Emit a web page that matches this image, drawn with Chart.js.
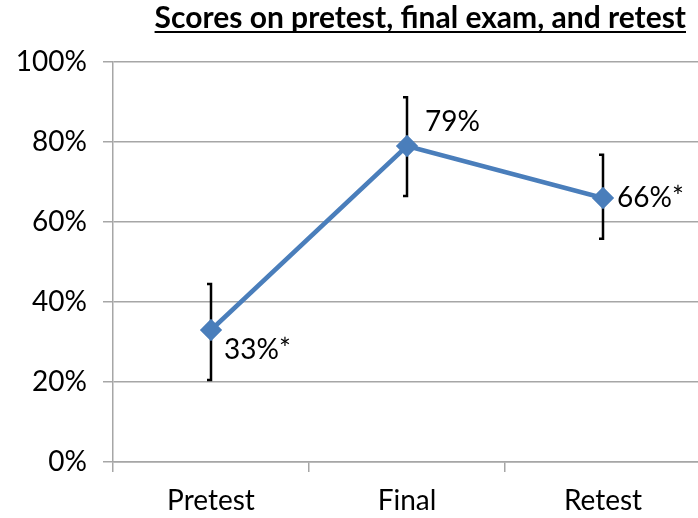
<!DOCTYPE html>
<html lang="en">
<head>
    <meta charset="UTF-8">
    <title>Scores on pretest, final exam, and retest</title>
    <style>
        body {
            margin: 0;
            background-color: #ffffff;
            overflow: hidden;
        }
        #wrap {
            width: 720px;
            height: 518px;
        }
    </style>
</head>
<body>
    <div id="wrap">
        <canvas id="scoreChart" width="720" height="518"></canvas>
    </div>
    <script src="https://cdn.jsdelivr.net/npm/chart.js@4.4.1/dist/chart.umd.min.js"></script>
    <script>
        // chart values
        var categories = ['Pretest', 'Final', 'Retest'];
        var scores = [33, 79, 66];
        var errLow = [20.5, 66.5, 55.8];
        var errHigh = [44.5, 91.2, 76.8];
        var pointLabels = ['33%*', '79%', '66%*'];
        var yTicks = [0, 20, 40, 60, 80, 100];

        var fontFamily = 'Lato, "Liberation Sans", sans-serif';
        var gridColor = '#a6a6a6';

        // label offsets relative to each point (dx, dy)
        var labelOffsets = [[13, 20], [18, -24], [14, 0]];

        // error bars drawn under the line
        var errorBarPlugin = {
            id: 'errorBars',
            beforeDatasetsDraw: function(chart) {
                var ctx = chart.ctx;
                var xs = chart.scales.x, ys = chart.scales.y;
                ctx.save();
                ctx.strokeStyle = '#000000';
                ctx.lineWidth = 2.5;
                errLow.forEach(function(lo, i) {
                    var x = xs.getPixelForValue(i);
                    var yLo = ys.getPixelForValue(lo);
                    var yHi = ys.getPixelForValue(errHigh[i]);
                    ctx.beginPath();
                    ctx.moveTo(x - 4, yHi);
                    ctx.lineTo(x, yHi);
                    ctx.lineTo(x, yLo);
                    ctx.lineTo(x - 4, yLo);
                    ctx.stroke();
                });
                ctx.restore();
            }
        };

        var pointLabelPlugin = {
            id: 'pointLabels',
            afterDatasetsDraw: function(chart) {
                var ctx = chart.ctx;
                var meta = chart.getDatasetMeta(0);
                ctx.save();
                ctx.fillStyle = '#000000';
                ctx.font = '28px ' + fontFamily;
                ctx.textAlign = 'left';
                ctx.textBaseline = 'middle';
                meta.data.forEach(function(pt, i) {
                    ctx.fillText(pointLabels[i], pt.x + labelOffsets[i][0], pt.y + labelOffsets[i][1]);
                });
                ctx.restore();
            }
        };

        // underlined bold title at the top right
        var titlePlugin = {
            id: 'underlinedTitle',
            afterDraw: function(chart) {
                var ctx = chart.ctx;
                var text = 'Scores on pretest, final exam, and retest';
                ctx.save();
                ctx.font = 'bold 30px ' + fontFamily;
                ctx.fillStyle = '#000000';
                ctx.textAlign = 'right';
                ctx.textBaseline = 'alphabetic';
                var right = 686, base = 28;
                ctx.fillText(text, right, base);
                var w = ctx.measureText(text).width;
                ctx.fillRect(right - w, base + 3, w, 2);
                ctx.restore();
            }
        };

        var ctx = document.getElementById('scoreChart').getContext('2d');
        var scoreChart = new Chart(ctx, {
            type: 'line',
            data: {
                labels: categories,
                datasets: [{
                    data: scores,
                    borderColor: '#4a7ebb',
                    backgroundColor: '#4a7ebb',
                    borderWidth: 4.5,
                    tension: 0,
                    pointStyle: 'rectRot',
                    pointRadius: 8,
                    pointHoverRadius: 8,
                    pointBackgroundColor: '#4a7ebb',
                    pointBorderColor: '#4a7ebb'
                }]
            },
            options: {
                responsive: false,
                animation: false,
                layout: {
                    padding: { left: 0, top: 62, right: 19, bottom: 0 }
                },
                plugins: {
                    legend: { display: false },
                    tooltip: { enabled: false },
                    title: { display: false }
                },
                scales: {
                    x: {
                        offset: true,
                        afterFit: function(scale) { scale.height = 56; },
                        grid: {
                            offset: true,
                            drawOnChartArea: false,
                            tickLength: 10,
                            color: gridColor,
                            lineWidth: 1.5
                        },
                        border: { display: true, color: gridColor, width: 1.5 },
                        ticks: {
                            color: '#000000',
                            padding: 12,
                            font: { family: fontFamily, size: 28 }
                        }
                    },
                    y: {
                        min: 0,
                        max: 100,
                        afterFit: function(scale) { scale.width = 113; },
                        afterBuildTicks: function(scale) {
                            scale.ticks = yTicks.map(function(v) { return { value: v }; });
                        },
                        grid: {
                            tickLength: 10,
                            color: gridColor,
                            lineWidth: 1.5
                        },
                        border: { display: true, color: gridColor, width: 1.5 },
                        ticks: {
                            color: '#000000',
                            padding: 16,
                            font: { family: fontFamily, size: 28 },
                            callback: function(v) { return v + '%'; }
                        }
                    }
                }
            },
            plugins: [errorBarPlugin, pointLabelPlugin, titlePlugin]
        });
    </script>
</body>
</html>
